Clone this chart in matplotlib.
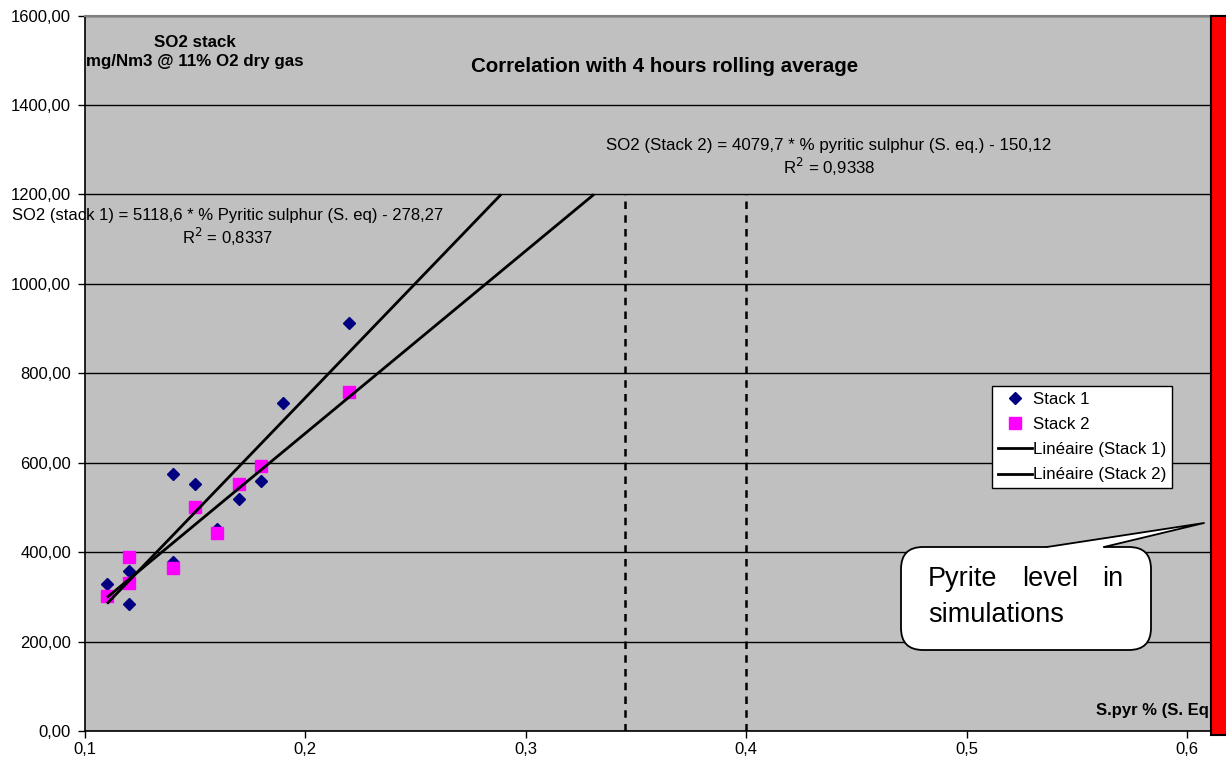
import matplotlib
matplotlib.use('Agg')
import matplotlib.pyplot as plt
from matplotlib.patches import FancyBboxPatch, Polygon, Rectangle
from matplotlib.transforms import IdentityTransform
from matplotlib.ticker import FuncFormatter
from matplotlib.lines import Line2D

plt.rcParams['font.family'] = ['Liberation Sans', 'DejaVu Sans']

# ---- data ----
stack1_x = [0.11, 0.12, 0.12, 0.14, 0.14, 0.15, 0.16, 0.17, 0.18, 0.19, 0.22]
stack1_y = [328, 357, 284, 574, 378, 553, 452, 518, 559, 733, 912]
stack2_x = [0.11, 0.12, 0.12, 0.14, 0.15, 0.16, 0.17, 0.18, 0.22]
stack2_y = [303, 390, 332, 364, 500, 442, 553, 592, 757]

slope1, intercept1 = 5118.6, -278.27
slope2, intercept2 = 4079.7, -150.12
trend_start = 0.11
trend_top = 1200

sim_levels = [0.345, 0.4]
sim_top = 1200

x_ticks = [0.1, 0.2, 0.3, 0.4, 0.5, 0.6]
y_ticks = [0, 200, 400, 600, 800, 1000, 1200, 1400, 1600]

eq1_text = "SO2 (stack 1) = 5118,6 * % Pyritic sulphur (S. eq) - 278,27\nR$^2$ = 0,8337"
eq2_text = "SO2 (Stack 2) = 4079,7 * % pyritic sulphur (S. eq.) - 150,12\nR$^2$ = 0,9338"

# ---- figure ----
W, H = 1226, 762
fig = plt.figure(figsize=(W / 100, H / 100), dpi=100)
x0, x1 = 0.1, 0.62
px_per_x = 2204.0
ax_left, ax_bottom, ax_top = 85, 731, 15.5
ax = fig.add_axes([ax_left / W, (H - ax_bottom) / H, (x1 - x0) * px_per_x / W, (ax_bottom - ax_top) / H])
ax.set_xlim(x0, x1)
ax.set_ylim(0, 1600)
ax.set_facecolor('#C0C0C0')

ax.set_xticks(x_ticks)
ax.set_yticks(y_ticks)
ax.xaxis.set_major_formatter(FuncFormatter(lambda v, p: f"{v:.1f}".replace('.', ',')))
ax.yaxis.set_major_formatter(FuncFormatter(lambda v, p: f"{v:.2f}".replace('.', ',')))
ax.tick_params(direction='out', length=5, width=1, colors='black', labelsize=12)
ax.tick_params(axis='y', pad=5)
ax.tick_params(axis='x', pad=3)
ax.yaxis.grid(True, color='black', linewidth=1)
ax.set_axisbelow(True)
for s in ['left', 'bottom']:
    ax.spines[s].set_color('black')
    ax.spines[s].set_linewidth(1.2)
ax.spines['top'].set_color('#808080')
ax.spines['top'].set_linewidth(1.5)
ax.spines['right'].set_visible(False)

# dashed simulation lines
for xv in sim_levels:
    ax.plot([xv, xv], [0, sim_top], color='black', linestyle=(0, (3, 2.5)), linewidth=1.8, zorder=2)

# trend lines
for sl, ic in [(slope1, intercept1), (slope2, intercept2)]:
    x_end = (trend_top - ic) / sl
    ax.plot([trend_start, x_end], [sl * trend_start + ic, sl * x_end + ic], color='black', linewidth=2.0,
            zorder=4, solid_capstyle='butt')

ax.plot(stack1_x, stack1_y, linestyle='none', marker='D', markersize=6.5, color='#000080', zorder=3)
ax.plot(stack2_x, stack2_y, linestyle='none', marker='s', markersize=9, color='#FF00FF', zorder=3)

# legend
handles = [
    Line2D([], [], linestyle='none', marker='D', markersize=6, color='#000080'),
    Line2D([], [], linestyle='none', marker='s', markersize=9, color='#FF00FF'),
    Line2D([], [], color='black', linewidth=2.0),
    Line2D([], [], color='black', linewidth=2.0),
]
labels = ['Stack 1', 'Stack 2', 'Linéaire (Stack 1)', 'Linéaire (Stack 2)']
leg = ax.legend(handles, labels, loc='upper left',
                bbox_to_anchor=((992 - ax_left) / ((x1 - x0) * px_per_x), (ax_bottom - 386) / (ax_bottom - ax_top)),
                borderaxespad=0, fancybox=False, edgecolor='black', framealpha=1, facecolor='white',
                fontsize=12.2, handlelength=2.0, handletextpad=0.05, labelspacing=0.6, borderpad=0.35)
leg.get_frame().set_linewidth(1.0)


def px_to_data(px, py):
    return x0 + (px - ax_left) / px_per_x, (ax_bottom - py) * 1600 / (ax_bottom - ax_top)


tx, ty = px_to_data(195, 52)
ax.text(tx, ty, "SO2 stack\nmg/Nm3 @ 11% O2 dry gas", ha='center', va='center', fontsize=12.2,
        fontweight='bold', linespacing=1.3, clip_on=True)
tx, ty = px_to_data(665, 66)
ax.text(tx, ty, "Correlation with 4 hours rolling average", ha='center', va='center', fontsize=14.8,
        fontweight='bold')
tx, ty = px_to_data(228, 228)
ax.text(tx, ty, eq1_text, ha='center', va='center', fontsize=12, multialignment='center', clip_on=False)
tx, ty = px_to_data(829, 158)
ax.text(tx, ty, eq2_text, ha='center', va='center', fontsize=12.2, multialignment='center')
tx, ty = px_to_data(1096, 710)
ax.text(tx, ty, "S.pyr % (S. Eq.)", ha='left', va='center', fontsize=12, fontweight='bold', zorder=5)

# red bar
rx, _ = px_to_data(1211, 0)
ax.add_patch(Rectangle((rx, -8), 0.05, 1608, facecolor='#FF0000', edgecolor='black', linewidth=1.5,
                       zorder=6, clip_on=False))


# callout (pixel geometry, y measured from top)
def disp(px, py):
    return (px, H - py)


bx0, by0, bx1, by1 = 901, 547, 1151, 650
box = FancyBboxPatch(disp(bx0, by1), bx1 - bx0, by1 - by0, boxstyle='round,pad=0,rounding_size=22',
                     facecolor='white', edgecolor='black', linewidth=1.3, transform=IdentityTransform(), zorder=7)
ax.add_patch(box)
tip = disp(1204, 523)
bl = disp(1047, 547)
br = disp(1104, 547)
wedge = Polygon([disp(1047, 550), bl, tip, br, disp(1104, 550)], closed=True, facecolor='white',
                edgecolor='none', transform=IdentityTransform(), zorder=8)
ax.add_patch(wedge)
ax.add_line(Line2D([bl[0], tip[0], br[0]], [bl[1], tip[1], br[1]], color='black', linewidth=1.3,
                   transform=IdentityTransform(), zorder=9))
fs = 19.5
for word, px, ha in [("Pyrite", 928, 'left'), ("level", 1050, 'center'), ("in", 1123, 'right')]:
    fig.text(px / W, 1 - 579 / H, word, ha=ha, va='center', fontsize=fs, zorder=10)
fig.text(928 / W, 1 - 615 / H, "simulations", ha='left', va='center', fontsize=fs, zorder=10)

fig.savefig('out.png', dpi=100)
